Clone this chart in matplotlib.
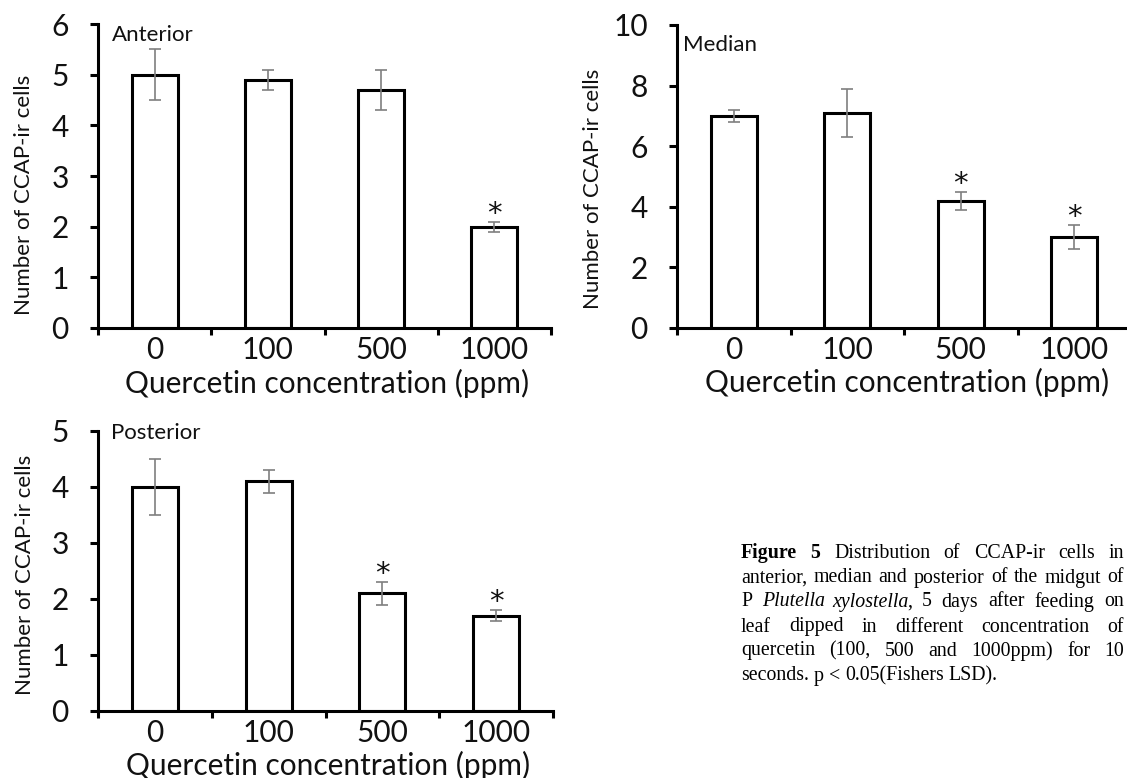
import numpy as np
import matplotlib
matplotlib.use("Agg")
import matplotlib.pyplot as plt

# ---------------- data ----------------
categories = ["0", "100", "500", "1000"]
xlabel_text = "Quercetin concentration (ppm)"
ylabel_text = "Number of CCAP-ir cells"

anterior_mean = [5.0, 4.9, 4.7, 2.0]
anterior_err = [0.5, 0.2, 0.4, 0.1]
anterior_sig = [False, False, False, True]

median_mean = [7.0, 7.1, 4.2, 3.0]
median_err = [0.2, 0.8, 0.3, 0.4]
median_sig = [False, False, True, True]

posterior_mean = [4.0, 4.1, 2.1, 1.7]
posterior_err = [0.5, 0.2, 0.2, 0.1]
posterior_sig = [False, False, True, True]

caption_lines = [
    [[("Figure", "bold")], [("5", "bold")], [("Distribution", "")], [("of", "")],
     [("CCAP-ir", "")], [("cells", "")], [("in", "")]],
    [[("anterior,", "")], [("median", "")], [("and", "")], [("posterior", "")],
     [("of", "")], [("the", "")], [("midgut", "")], [("of", "")]],
    [[("P", "")], [("Plutella", "italic")], [("xylostella", "italic"), (",", "")],
     [("5", "")], [("days", "")], [("after", "")], [("feeding", "")], [("on", "")]],
    [[("leaf", "")], [("dipped", "")], [("in", "")], [("different", "")],
     [("concentration", "")], [("of", "")]],
    [[("quercetin", "")], [("(100,", "")], [("500", "")], [("and", "")],
     [("1000ppm)", "")], [("for", "")], [("10", "")]],
    [[("seconds.", "")], [("p", "")], [("<", "")], [("0.05(Fishers", "")], [("LSD).", "")]],
]

# ---------------- figure ----------------
W, H = 1127, 778
fig = plt.figure(figsize=(W / 100, H / 100), dpi=100)
SANS = "Lato"
SERIF = "Liberation Serif"
TICK_FS = 21.5
XLAB_FS = 21.5
YLAB_FS = 16
NAME_FS = 16
LW = 2.2
TXT = "#111111"


def fx(px):
    return px / W


def fy(py):
    return 1 - py / H


def panel(left, right, top, bottom, means, errs, sig, ymax, ystep, name, name_xy,
          ylab_xy, xlab_y):
    ax = fig.add_axes([fx(left), fy(bottom), fx(right) - fx(left), (bottom - top) / H])
    x = np.arange(len(categories))
    ax.bar(x, means, width=0.405, color="white", edgecolor="black", linewidth=LW, zorder=2)
    ax.errorbar(x, means, yerr=errs, fmt="none", ecolor="#7f7f7f", elinewidth=1.2,
                capsize=4, capthick=1.2, zorder=3)
    for xi, m, e, s in zip(x, means, errs, sig):
        if s:
            ax.annotate("*", (xi, m + e), xytext=(0, 0), textcoords="offset points",
                        ha="center", va="baseline", fontsize=21, family="DejaVu Sans",
                        color=TXT)
    ax.set_xlim(-0.5, len(categories) - 0.5)
    ax.set_ylim(0, ymax)
    for s in ("top", "right"):
        ax.spines[s].set_visible(False)
    for s in ("left", "bottom"):
        ax.spines[s].set_linewidth(LW)
    ax.set_xticks(x)
    ax.set_xticklabels(categories, fontsize=TICK_FS, family=SANS, color=TXT)
    ax.set_xticks(np.arange(-0.5, len(categories), 1.0), minor=True)
    ax.tick_params(axis="x", which="major", length=0, pad=6)
    ax.tick_params(axis="x", which="minor", length=5, width=LW, direction="out")
    yt = np.arange(0, ymax + ystep / 2, ystep)
    ax.set_yticks(yt)
    ax.set_yticklabels([f"{v:g}" for v in yt], fontsize=TICK_FS, family=SANS, color=TXT)
    ax.tick_params(axis="y", length=6, width=LW, direction="out", pad=15)
    fig.text(fx(name_xy[0]), fy(name_xy[1]), name, fontsize=NAME_FS, family=SANS,
             ha="left", va="center", color=TXT)
    fig.text(fx(ylab_xy[0]), fy(ylab_xy[1]), ylabel_text, fontsize=YLAB_FS, family=SANS,
             rotation=90, ha="center", va="center", color=TXT)
    fig.text(fx((left + right) / 2 + 3), fy(xlab_y), xlabel_text, fontsize=XLAB_FS,
             family=SANS, ha="center", va="center", color=TXT)
    return ax


panel(98, 551, 24, 328, anterior_mean, anterior_err, anterior_sig, 6, 1,
      "Anterior", (112, 35), (24, 195), 383)
panel(677, 1131, 25, 328, median_mean, median_err, median_sig, 10, 2,
      "Median", (683, 45), (593, 189), 382)
panel(98, 553, 431, 711, posterior_mean, posterior_err, posterior_sig, 5, 1,
      "Posterior", (111, 433), (25, 575), 765)

# ---------------- caption (justified) ----------------
renderer = fig.canvas.get_renderer()
CAP_FS = 14.3
x0, x1 = 741, 1124
line_y = [553, 578, 602, 627, 651, 676]


def style_kw(st):
    kw = dict(fontsize=CAP_FS, family=SERIF, va="center", ha="left", color="black")
    if st == "bold":
        kw["fontweight"] = "bold"
    if st == "italic":
        kw["fontstyle"] = "italic"
    return kw


space_probe = fig.text(0, 0, "a a", **style_kw(""))
a_probe = fig.text(0, 0, "aa", **style_kw(""))
space_w = (space_probe.get_window_extent(renderer).width
           - a_probe.get_window_extent(renderer).width)
space_probe.remove()
a_probe.remove()

for li, (words, yy) in enumerate(zip(caption_lines, line_y)):
    widths = []
    for word in words:
        ww = 0
        segw = []
        for txt, st in word:
            t = fig.text(0, 0, txt, **style_kw(st))
            w = t.get_window_extent(renderer).width
            t.remove()
            if st == "italic":
                w -= 2
            segw.append(w)
            ww += w
        widths.append((ww, segw))
    total = sum(w for w, _ in widths)
    if li < len(caption_lines) - 1 and len(words) > 1:
        gap = (x1 - x0 - total) / (len(words) - 1)
    else:
        gap = space_w
    cx = x0
    for word, (ww, segw) in zip(words, widths):
        sx = cx
        for (txt, st), w in zip(word, segw):
            fig.text(fx(sx), fy(yy), txt, **style_kw(st))
            sx += w
        cx += ww + gap

fig.savefig("out.png", dpi=100)
